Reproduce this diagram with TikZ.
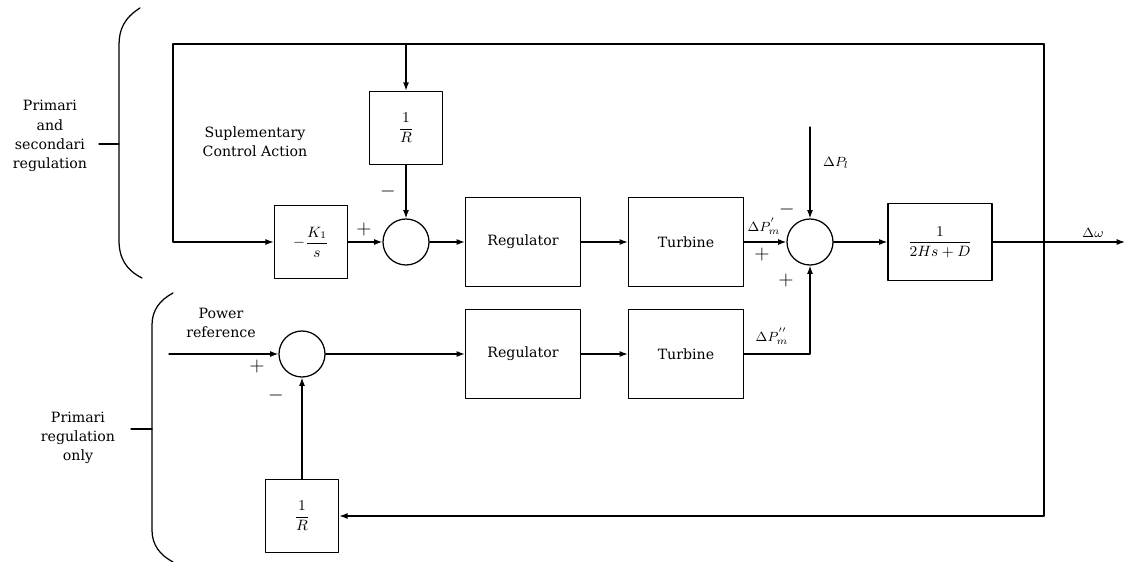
\documentclass[tikz,border=0pt]{standalone}
\usepackage{amsmath}
\usepackage{fontspec}
\setmainfont{DejaVu Serif}
\usepackage{tikz}
\usetikzlibrary{positioning,arrows.meta}

\begin{document}
\begin{tikzpicture}[x=0.6pt, y=-0.6pt, >={Latex[length=5pt,width=3.6pt]},
		line cap=round, line join=round, line width=0.75pt,
		txt/.style={font=\fontsize{8.5}{11.5}\selectfont, align=center, inner sep=0pt},
		blk/.style={draw, minimum width=44pt, minimum height=44pt, inner sep=0pt, font=\small},
		unit/.style={draw, minimum width=69pt, minimum height=53pt, inner sep=0pt, font=\fontsize{8.5}{10}\selectfont},
		sum/.style={draw, circle, minimum size=27.6pt, inner sep=0pt},
		sgn/.style={font=\large, inner sep=0pt},
		lbl/.style={font=\footnotesize, inner sep=0pt}]
		\useasboundingbox (0,0) rectangle (1126,562);

		% braces and their captions
		\draw (140,8) .. controls (124,18) and (119,30) .. (119,45) -- (119,240)
			.. controls (119,258) and (126,270) .. (142,278);
		\coordinate (uptick) at (119,144);
		\node[txt] (uptext) at (50,136) {Primari\\and\\secondari\\regulation};
		\draw (uptick) -- ++(-20,0);
		\draw (173,293) .. controls (160,300) and (152,310) .. (152,325) -- (152,530)
			.. controls (152,545) and (160,555) .. (173,562);
		\coordinate (lotick) at (152,429);
		\node[txt] (lotext) at (78,438) {Primari\\regulation\\only};
		\draw (lotick) -- ++(-21,0);

		% upper loop
		\node[blk] (kint) at (311,242) {$-\dfrac{K_1}{s}$};
		\node[blk] (rtop) at (406,128) {$\dfrac{1}{R}$};
		\node[sum] (s1) at (406,242) {};
		\node[unit] (reg1) at (523,242) {Regulator};
		\node[unit] (tur1) at (686,242) {Turbine};
		\node[sum] (s2) at (810,242) {};
		\node[blk, minimum width=62.4pt, minimum height=46pt] (plant) at (940,242) {$\dfrac{1}{2Hs+D}$};
		\node[txt] (supl) at (255,142) {Suplementary\\Control Action};

		\coordinate (tap) at (1044,242);
		\coordinate (fbtop) at (1044,44);
		\coordinate (fbleft) at (173,44);
		\coordinate (out) at (1125,242);
		\coordinate (pl) at (810,127);

		\draw[->] (kint) -- (s1);
		\draw[->] (rtop) -- (s1);
		\draw[->] (s1) -- (reg1);
		\draw[->] (reg1) -- (tur1);
		\draw[->] (tur1) -- (s2);
		\draw[->] (pl) -- (s2);
		\draw[->] (s2) -- (plant);
		\draw[->] (plant) -- (out);
		\draw[->] (tap) -- (fbtop) -- (fbleft) |- (kint.west);
		\draw[->] (rtop.north |- fbtop) -- (rtop.north);

		\node[sgn] (p1) at (364,230) {$+$};
		\node[sgn] (m1) at (388,192) {$-$};
		\node[sgn] (m2) at (787,210) {$-$};
		\node[sgn] (p2) at (762,255) {$+$};
		\node[sgn] (p3) at (786,281) {$+$};
		\node[lbl] (lpl) at (836,163) {$\Delta P_l$};
		\node[lbl] (lpm1) at (764,226) {$\Delta P_m^{'}$};
		\node[lbl] (lw) at (1093,233) {$\Delta\omega$};

		% lower loop
		\coordinate (pref) at (169,354);
		\node[sum] (s3) at (302,354) {};
		\node[unit] (reg2) at (523,354) {Regulator};
		\node[unit] (tur2) at (686,354) {Turbine};
		\node[blk] (rbot) at (302,516) {$\dfrac{1}{R}$};
		\node[txt] (ptxt) at (221,323) {Power\\reference};

		\draw[->] (pref) -- (s3);
		\draw[->] (s3) -- (reg2);
		\draw[->] (reg2) -- (tur2);
		\draw[->] (tur2.east) -| (s2.south);
		\draw[->] (fbtop) |- (rbot.east);
		\draw[->] (rbot) -- (s3);

		\node[sgn] (p4) at (257,367) {$+$};
		\node[sgn] (m4) at (276,395) {$-$};
		\node[lbl] (lpm2) at (772,336) {$\Delta P_m^{''}$};
	\end{tikzpicture}
\end{document}
